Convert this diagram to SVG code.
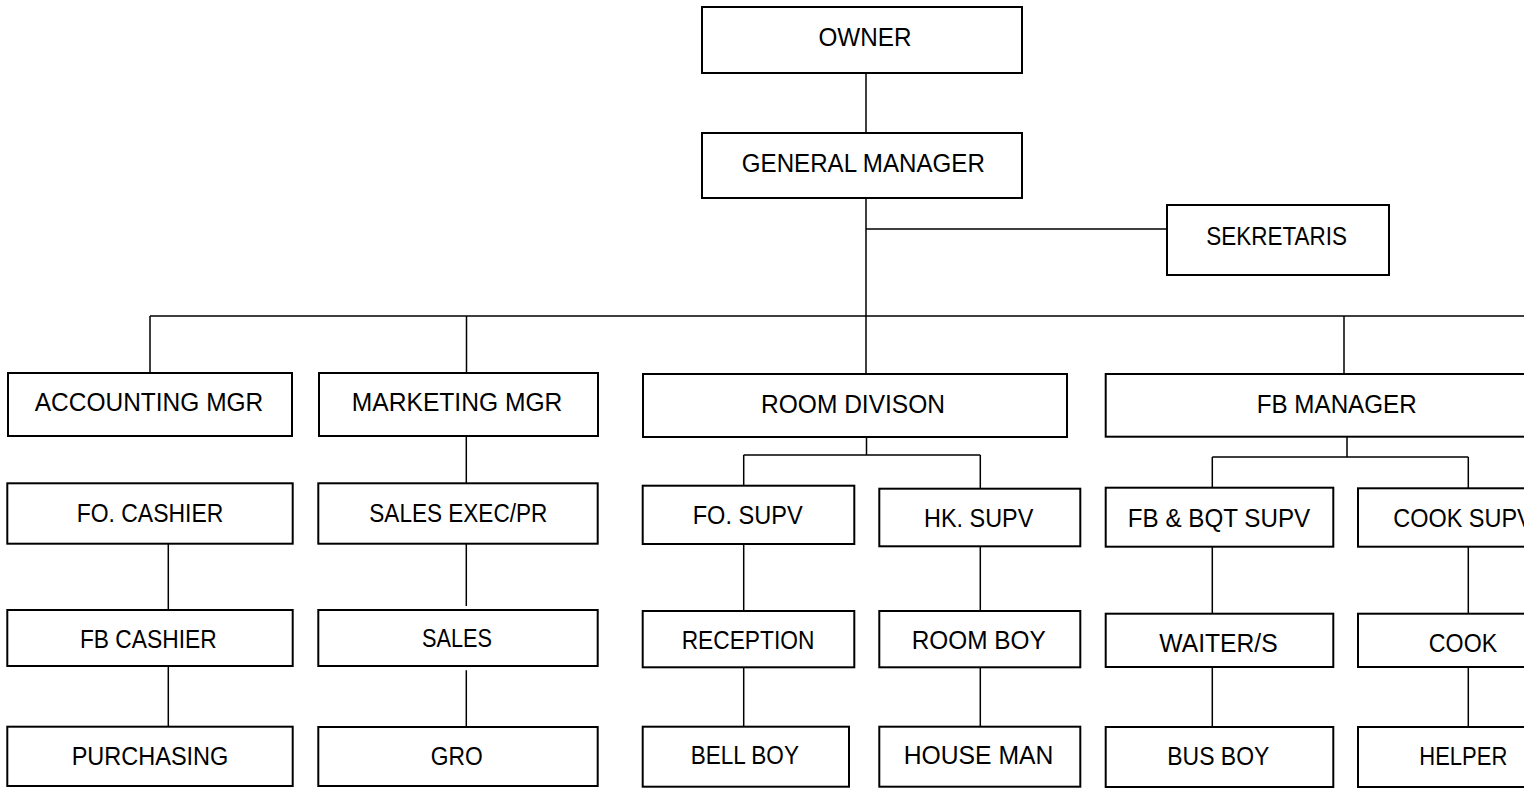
<svg xmlns="http://www.w3.org/2000/svg" width="1524" height="788" viewBox="0 0 1524 788">
<style>
.box{fill:#fff;stroke:#000;stroke-width:2}
.t{font-family:"Liberation Sans",Arial,sans-serif;font-size:25px;fill:#000;text-anchor:middle}
.c{stroke:#000;stroke-width:1.5;fill:none}
</style>
<rect width="1524" height="788" fill="#fff"/>
<g id="connectors">
<path class="c" d="M866,73V133 M866,198V374 M866,229H1167 M150,316H1524 M150,316V373 M466.5,316V373 M1344,316V374"/>
<path class="c" d="M168.3,543.7V610 M168.3,666V726.7"/>
<path class="c" d="M466.3,436V483.3 M466.3,543.7V606 M466.3,670.3V731"/>
<path class="c" d="M866.5,437V455 M743.7,455H980.3 M743.7,455V485.7 M980.3,455V490.7 M743.7,544V611 M743.7,667.3V726.7 M980.3,546.3V611 M980.3,667.3V726.7"/>
<path class="c" d="M1347,437V457 M1212.3,457H1468.3 M1212.3,457V488 M1468.3,457V489 M1212.3,546.7V613.7 M1212.3,667V727 M1468.3,546.7V613.7 M1468.3,667V727"/>
</g>
<g id="owner"><rect class="box" x="702" y="7" width="320" height="66"/><text class="t" x="865" y="46" textLength="93" lengthAdjust="spacingAndGlyphs">OWNER</text></g>
<g id="gm"><rect class="box" x="702" y="133" width="320" height="65"/><text class="t" x="863.3" y="172" textLength="243" lengthAdjust="spacingAndGlyphs">GENERAL MANAGER</text></g>
<g id="sekretaris"><rect class="box" x="1167" y="205" width="222" height="70"/><text class="t" x="1276.6" y="245" textLength="140.7" lengthAdjust="spacingAndGlyphs">SEKRETARIS</text></g>
<g id="accounting"><rect class="box" x="8" y="373" width="284" height="63"/><text class="t" x="149" y="411" textLength="228.6" lengthAdjust="spacingAndGlyphs">ACCOUNTING MGR</text></g>
<g id="marketing"><rect class="box" x="319" y="373" width="279" height="63"/><text class="t" x="457.1" y="411" textLength="210.6" lengthAdjust="spacingAndGlyphs">MARKETING MGR</text></g>
<g id="roomdiv"><rect class="box" x="643" y="374" width="424" height="63"/><text class="t" x="853" y="413" textLength="184" lengthAdjust="spacingAndGlyphs">ROOM DIVISON</text></g>
<g id="fbmanager"><rect class="box" x="1105.7" y="374" width="462" height="62.7"/><text class="t" x="1336.7" y="412.7" textLength="160" lengthAdjust="spacingAndGlyphs">FB MANAGER</text></g>
<g id="focashier"><rect class="box" x="7.3" y="483.3" width="285.4" height="60.4"/><text class="t" x="150" y="522.3" textLength="146.7" lengthAdjust="spacingAndGlyphs">FO. CASHIER</text></g>
<g id="salesexec"><rect class="box" x="318.3" y="483.3" width="279.4" height="60.4"/><text class="t" x="458.3" y="522.3" textLength="178" lengthAdjust="spacingAndGlyphs">SALES EXEC/PR</text></g>
<g id="fosupv"><rect class="box" x="642.7" y="485.7" width="211.6" height="58.3"/><text class="t" x="747.7" y="524" textLength="110" lengthAdjust="spacingAndGlyphs">FO. SUPV</text></g>
<g id="hksupv"><rect class="box" x="879.3" y="488.7" width="201" height="57.6"/><text class="t" x="978.7" y="527.3" textLength="109.3" lengthAdjust="spacingAndGlyphs">HK. SUPV</text></g>
<g id="fbbqt"><rect class="box" x="1105.7" y="487.7" width="227.6" height="59"/><text class="t" x="1219" y="526.5" textLength="182.3" lengthAdjust="spacingAndGlyphs">FB &amp; BQT SUPV</text></g>
<g id="cooksupv"><rect class="box" x="1358" y="488.3" width="210" height="58.4"/><text class="t" x="1463" y="526.5" textLength="139.5" lengthAdjust="spacingAndGlyphs">COOK SUPV</text></g>
<g id="fbcashier"><rect class="box" x="7.3" y="610" width="285.4" height="56"/><text class="t" x="148.3" y="647.7" textLength="136.7" lengthAdjust="spacingAndGlyphs">FB CASHIER</text></g>
<g id="sales"><rect class="box" x="318.3" y="610" width="279.4" height="56"/><text class="t" x="457" y="646.7" textLength="70" lengthAdjust="spacingAndGlyphs">SALES</text></g>
<g id="reception"><rect class="box" x="642.7" y="611" width="211.6" height="56.3"/><text class="t" x="748" y="649.3" textLength="132.7" lengthAdjust="spacingAndGlyphs">RECEPTION</text></g>
<g id="roomboy"><rect class="box" x="879.3" y="611" width="201" height="56.3"/><text class="t" x="978.7" y="649.3" textLength="134" lengthAdjust="spacingAndGlyphs">ROOM BOY</text></g>
<g id="waiter"><rect class="box" x="1105.7" y="613.7" width="227.6" height="53.3"/><text class="t" x="1218.5" y="652" textLength="118.3" lengthAdjust="spacingAndGlyphs">WAITER/S</text></g>
<g id="cook"><rect class="box" x="1358" y="613.7" width="210" height="53.3"/><text class="t" x="1463" y="652" textLength="68.3" lengthAdjust="spacingAndGlyphs">COOK</text></g>
<g id="purchasing"><rect class="box" x="7.3" y="726.7" width="285.4" height="59.3"/><text class="t" x="150" y="765" textLength="156.7" lengthAdjust="spacingAndGlyphs">PURCHASING</text></g>
<g id="gro"><rect class="box" x="318.3" y="727" width="279.4" height="59"/><text class="t" x="456.7" y="765" textLength="52" lengthAdjust="spacingAndGlyphs">GRO</text></g>
<g id="bellboy"><rect class="box" x="642.7" y="726.7" width="206.3" height="60"/><text class="t" x="744.8" y="764.3" textLength="108.3" lengthAdjust="spacingAndGlyphs">BELL BOY</text></g>
<g id="houseman"><rect class="box" x="879.3" y="726.7" width="201" height="60"/><text class="t" x="978.5" y="764.3" textLength="149.7" lengthAdjust="spacingAndGlyphs">HOUSE MAN</text></g>
<g id="busboy"><rect class="box" x="1105.7" y="727" width="227.6" height="60"/><text class="t" x="1218.3" y="765" textLength="102" lengthAdjust="spacingAndGlyphs">BUS BOY</text></g>
<g id="helper"><rect class="box" x="1358" y="727" width="210" height="60"/><text class="t" x="1463.3" y="765" textLength="88" lengthAdjust="spacingAndGlyphs">HELPER</text></g>
</svg>
